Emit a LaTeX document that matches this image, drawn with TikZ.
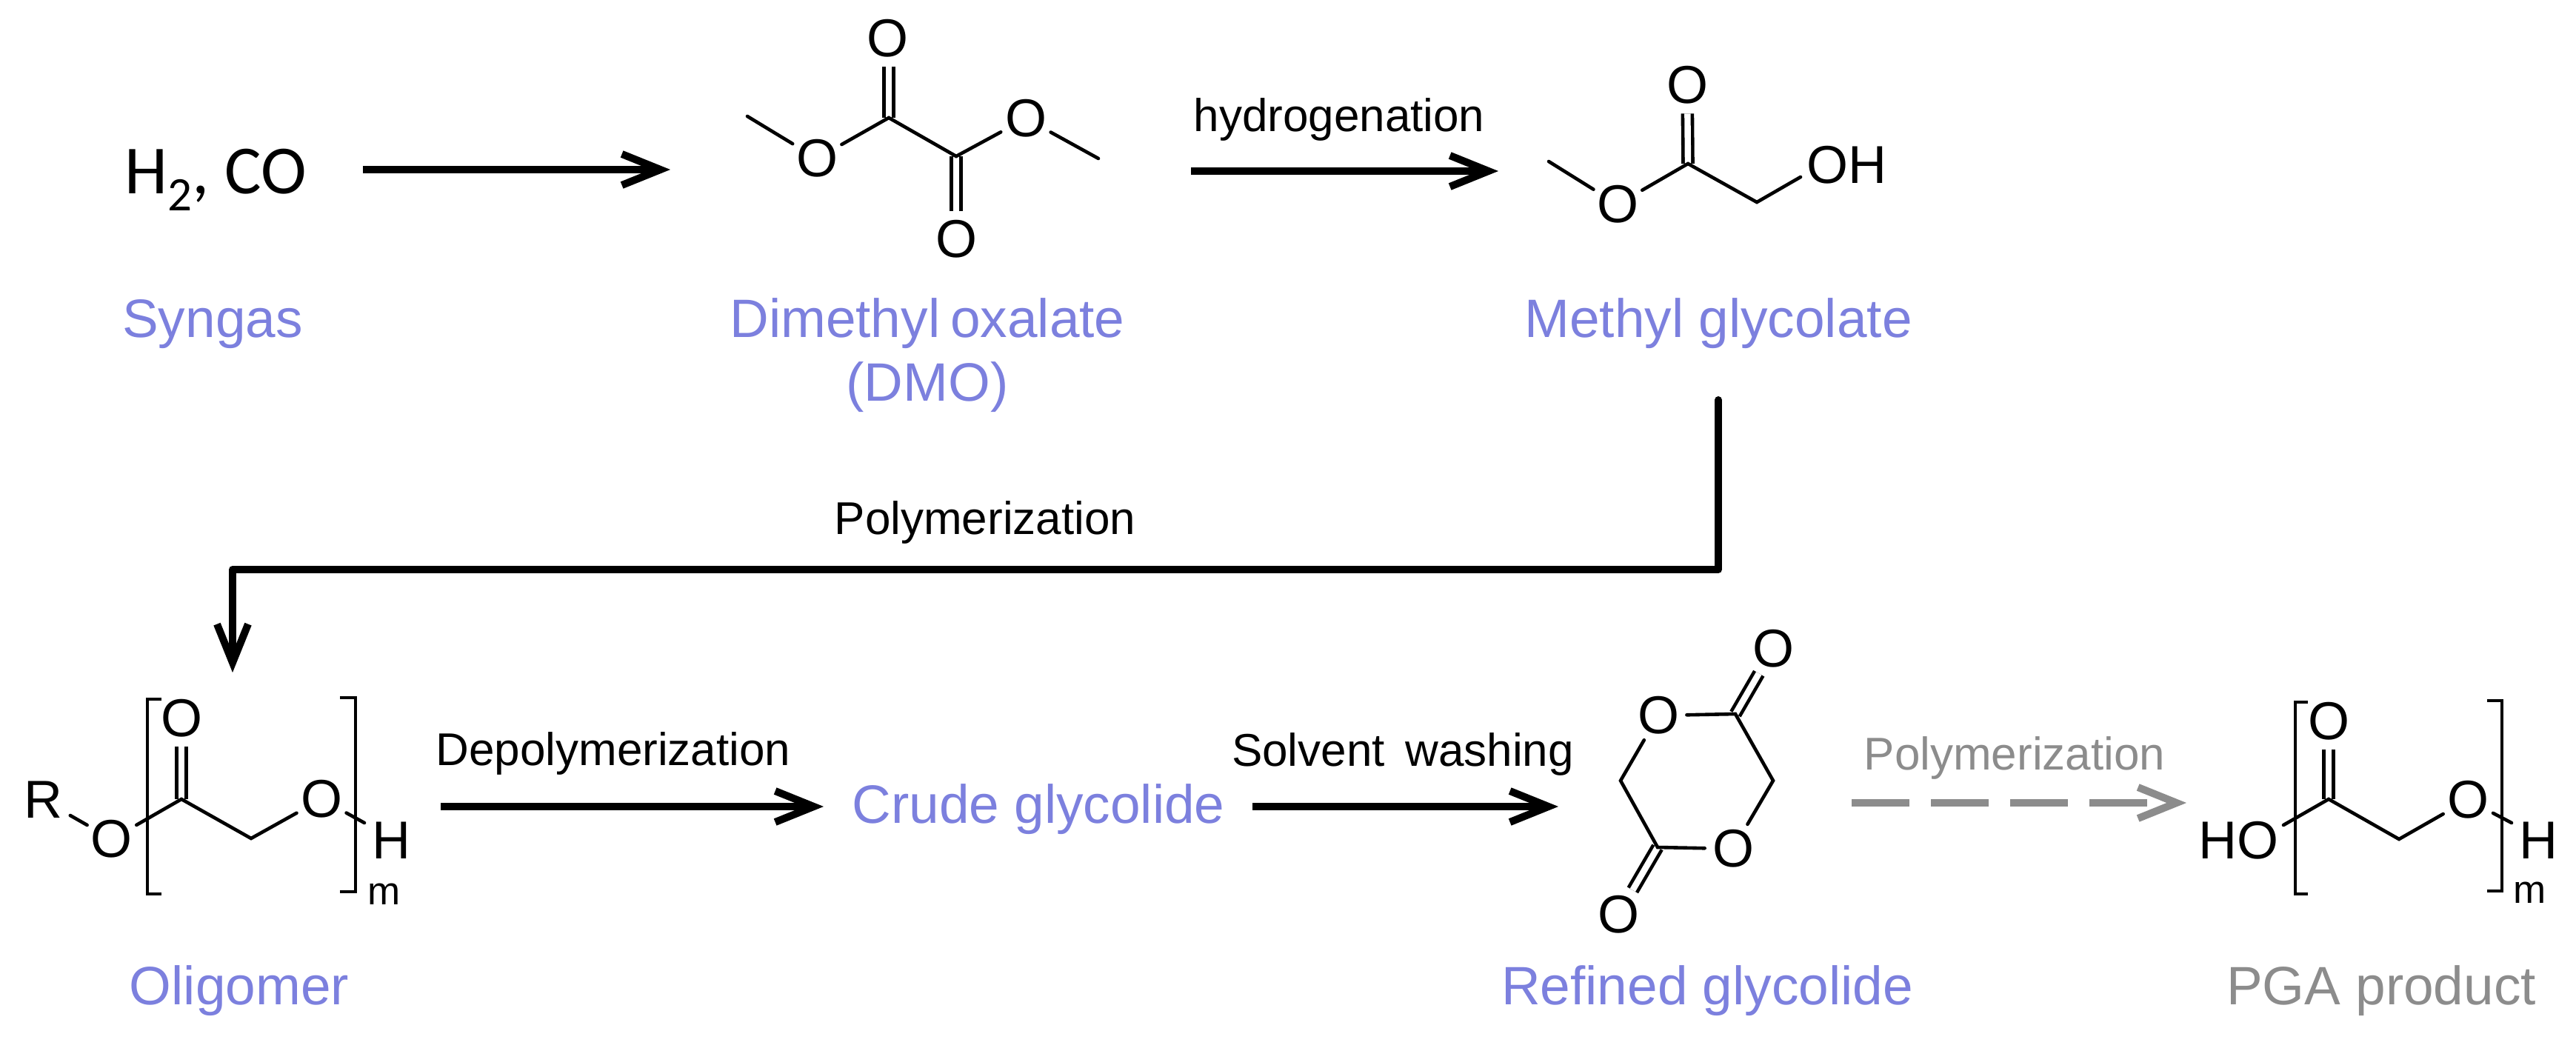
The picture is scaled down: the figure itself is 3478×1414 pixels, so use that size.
\documentclass[tikz,border=0pt]{standalone}
\usepackage{fontspec}
\setmainfont{Liberation Sans}
\newfontfamily\calib{Carlito}
\usetikzlibrary{arrows.meta}
\definecolor{lblue}{HTML}{7C80DE}
\definecolor{lgray}{HTML}{8C8C8C}
\tikzset{
  x=0.5pt,y=-0.5pt,
  lab/.style={font=\fontsize{36.5}{43}\selectfont,text=lblue,anchor=base,inner sep=0pt},
  graylab/.style={lab,text=lgray},
  cond/.style={font=\fontsize{31}{36}\selectfont,text=black,anchor=base,inner sep=0pt},
  graycond/.style={cond,text=lgray},
  atom/.style={circle,inner sep=0pt,minimum size=38pt,font=\fontsize{36}{40}\selectfont},
  chem/.style={font=\fontsize{36}{40}\selectfont,anchor=base,inner sep=0pt},
  subs/.style={font=\fontsize{26.5}{30}\selectfont,anchor=base,inner sep=0pt},
  bond/.style={draw=black,line width=2.3pt,line cap=round,line join=miter},
  dbl/.style={draw=black,line width=2.3pt,double=white,double distance=4.2pt},
  brk/.style={draw=black,line width=2.2pt},
  rxn/.style={draw=black,line width=5pt,-{Straight Barb[length=26pt,width=21pt,line width=5pt]}},
  rxnlong/.style={rxn,line cap=round,line join=round},
  rxngray/.style={draw=lgray,line width=5pt,dash pattern=on 39pt off 14.5pt,-{Straight Barb[length=26pt,width=21pt,line width=5pt]}}
}
\begin{document}
\begin{tikzpicture}
\useasboundingbox (0,0) rectangle (3478,1414);
% labels
\node[lab] (lsyn) at (287,455) {Syngas};
\node[lab,align=center,anchor=north] (ldmo) at (1252,402) {Dimethyl\hspace{7pt}oxalate\\(DMO)};
\node[lab] (lmg) at (2320,455) {Methyl glycolate};
\node[lab] (lolig) at (323,1356) {Oligomer};
\node[lab] (lcrude) at (1402,1111) {Crude glycolide};
\node[lab] (lref) at (2305,1356) {Refined glycolide};
\node[graylab] (lpga) at (3215,1356) {PGA product};
\node[cond] (thyd) at (1808,177) {hydrogenation};
\node[cond] (tpol) at (1330,721) {Polymerization};
\node[cond] (tdep) at (828,1033) {Depolymerization};
\node[cond] (tsol) at (1894,1034) {Solvent\, washing};
\node[graycond] (tpol2) at (2720,1039) {Polymerization};
% syngas
\node[anchor=base west,inner sep=0pt,font=\calib\fontsize{46.5}{50}\selectfont] (syn) at (168,261) {H\raisebox{-11.5pt}{\fontsize{32.5}{34}\selectfont 2}, CO};
% reaction arrows
\coordinate (a1s) at (490,229); \coordinate (a1e) at (905,229);
\coordinate (a2s) at (1608,231); \coordinate (a2e) at (2023,231);
\coordinate (a3s) at (2320,540); \coordinate (a3c) at (2320,769); \coordinate (a3d) at (314,769); \coordinate (a3e) at (314,908);
\coordinate (a4s) at (595,1089); \coordinate (a4e) at (1112,1089);
\coordinate (a5s) at (1691,1089); \coordinate (a5e) at (2104,1089);
\coordinate (a6s) at (2500,1084); \coordinate (a6e) at (2952,1084);
\draw[rxn] (a1s) -- (a1e);
\draw[rxn] (a2s) -- (a2e);
\draw[rxnlong] (a3s) -- (a3c) -- (a3d) -- (a3e);
\draw[rxn] (a4s) -- (a4e);
\draw[rxn] (a5s) -- (a5e);
\draw[rxngray] (a6s) -- (a6e);
% DMO
\node[atom] (dO1) at (1198,52) {O};
\node[atom] (dO2) at (1103,214) {O};
\node[atom] (dO3) at (1385,160) {O};
\node[atom] (dO4) at (1291,323) {O};
\coordinate (dC1) at (1200,159); \coordinate (dC2) at (1291,211);
\coordinate (dM1) at (1009,157); \coordinate (dM2) at (1483,214);
\draw[dbl] (dC1) -- (dC1 |- dO1.south);
\draw[dbl] (dC2) -- (dO4);
\draw[bond] (dM1) -- (dO2);
\draw[bond] (dO2) -- (dC1) -- (dC2) -- (dO3);
\draw[bond] (dO3) -- (dM2);
% methyl glycolate
\node[atom] (mO1) at (2278,115) {O};
\node[atom] (mO2) at (2184,276) {O};
\node[chem,anchor=base west] (mOH) at (2439,247) {OH};
\coordinate (mC) at (2279,221); \coordinate (mCH) at (2372,273);
\coordinate (mM) at (2091,218); \coordinate (mOHb) at (2431,239);
\draw[dbl] (mC) -- (mO1);
\draw[bond] (mM) -- (mO2);
\draw[bond] (mO2) -- (mC) -- (mCH) -- (mOHb);
% oligomer
\node[atom,minimum size=42pt] (oR) at (58,1080) {R};
\node[atom] (oO1) at (151,1133) {O};
\node[atom] (oO2) at (245,970) {O};
\node[atom] (oO3) at (434,1079) {O};
\node[chem] (oH) at (528,1159) {H};
\node[subs] (om) at (519,1221) {m};
\coordinate (oC) at (245,1079); \coordinate (oCH) at (339,1132); \coordinate (oHb) at (492,1111);
\draw[dbl] (oC) -- (oO2);
\draw[bond] (oR) -- (oO1);
\draw[bond] (oO1) -- (oC) -- (oCH) -- (oO3);
\draw[bond] (oO3) -- (oHb);
\draw[brk] (218,944) -- (199,944) -- (199,1207) -- (218,1207);
\draw[brk] (459,942) -- (480,942) -- (480,1204) -- (459,1204);
% glycolide
\node[atom] (gO1) at (2239,966) {O};
\node[atom] (gO2) at (2340,1146) {O};
\node[atom] (gO3) at (2394,876) {O};
\node[atom] (gO4) at (2185,1235) {O};
\coordinate (gC1) at (2343,964); \coordinate (gC2) at (2394,1054);
\coordinate (gC3) at (2238,1144); \coordinate (gC4) at (2188,1054);
\draw[dbl] (gC1) -- (gO3);
\draw[dbl] (gC3) -- (gO4);
\draw[bond] (gO1) -- (gC1) -- (gC2) -- (gO2) -- (gC3) -- (gC4) -- (gO1);
% PGA
\node[chem] (pHO) at (3022,1159) {HO};
\node[atom] (pO1) at (3144,974) {O};
\node[atom] (pO2) at (3332,1080) {O};
\node[chem] (pH) at (3427,1159) {H};
\node[subs] (pm) at (3416,1219) {m};
\coordinate (pHOb) at (3083,1114); \coordinate (pC) at (3144,1079);
\coordinate (pCH) at (3239,1133); \coordinate (pHb) at (3391,1111);
\draw[dbl] (pC) -- (pO1);
\draw[bond] (pHOb) -- (pC) -- (pCH) -- (pO2);
\draw[bond] (pO2) -- (pHb);
\draw[brk] (3116,948) -- (3099,948) -- (3099,1207) -- (3116,1207);
\draw[brk] (3358,946) -- (3378,946) -- (3378,1203) -- (3358,1203);
\end{tikzpicture}
\end{document}
